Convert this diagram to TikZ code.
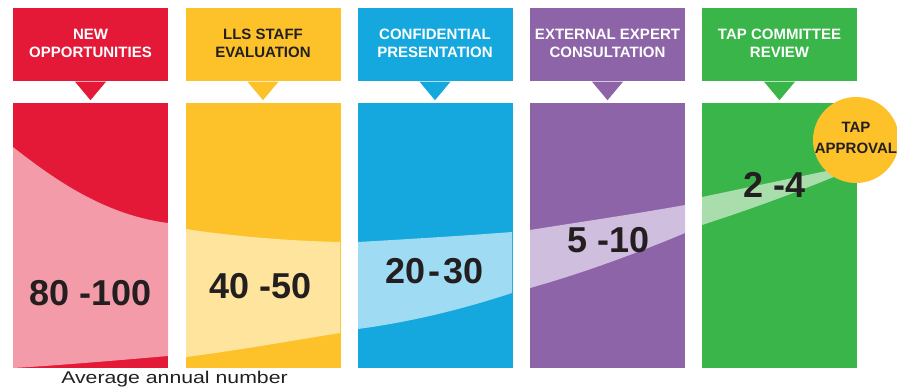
\documentclass[tikz,border=0pt]{standalone}
\usepackage{fontspec}
\setmainfont{Liberation Sans}
\usetikzlibrary{calc}
\definecolor{cRed}{HTML}{E31937}
\definecolor{cRedL}{HTML}{F39BA9}
\definecolor{cYel}{HTML}{FDC22A}
\definecolor{cYelL}{HTML}{FEE49C}
\definecolor{cBlue}{HTML}{14A8DF}
\definecolor{cBlueL}{HTML}{9FDBF2}
\definecolor{cPur}{HTML}{8E64A8}
\definecolor{cPurL}{HTML}{D0BEDF}
\definecolor{cGrn}{HTML}{3AB54A}
\definecolor{cGrnL}{HTML}{A9DDAB}
\definecolor{cDark}{HTML}{231F20}
\tikzset{
  hdrbox/.style={rectangle, fill=#1, minimum width=155pt, minimum height=73pt, inner sep=0pt},
  bodybox/.style={rectangle, fill=#1, minimum width=155pt, minimum height=265pt, inner sep=0pt},
  hdrtext/.style={text=#1, align=center, inner sep=0pt,
    font=\fontsize{15}{18}\selectfont\bfseries},
  numtext/.style={text=cDark, anchor=base, inner sep=0pt,
    font=\fontsize{36}{36}\selectfont\bfseries},
  pointer/.style={fill=#1}
}
\newcommand{\mypointer}[2]{%
  \fill[pointer=#2] ($(#1.south)+(-15.5,0.5)$) -- ($(#1.south)+(15.5,0.5)$) -- ($(#1.south)+(0,19)$) -- cycle;}
\begin{document}
\begin{tikzpicture}[x=1pt,y=-1pt]
\useasboundingbox (0,0) rectangle (897,389);
\clip (0,0) rectangle (897,389);

% headers
\node[hdrbox=cRed]  (h1) at (90.5,44.5)  {};
\node[hdrbox=cYel]  (h2) at (263,44.5)   {};
\node[hdrbox=cBlue] (h3) at (435,44.5)   {};
\node[hdrbox=cPur]  (h4) at (607.5,44.5) {};
\node[hdrbox=cGrn]  (h5) at (779.5,44.5) {};
\mypointer{h1}{cRed}
\mypointer{h2}{cYel}
\mypointer{h3}{cBlue}
\mypointer{h4}{cPur}
\mypointer{h5}{cGrn}
\node[hdrtext=white] (t1) at (90.5,43)  {NEW\\OPPORTUNITIES};
\node[hdrtext=cDark] (t2) at (263,43)   {LLS STAFF\\EVALUATION};
\node[hdrtext=white] (t3) at (435,43)   {CONFIDENTIAL\\PRESENTATION};
\node[hdrtext=white] (t4) at (607.5,43) {EXTERNAL EXPERT\\CONSULTATION};
\node[hdrtext=white] (t5) at (779.5,43) {TAP COMMITTEE\\REVIEW};

% bodies
\node[bodybox=cRed]  (b1) at (90.5,235.5)  {};
\node[bodybox=cYel]  (b2) at (263,235.5)   {};
\node[bodybox=cBlue] (b3) at (435,235.5)   {};
\node[bodybox=cPur]  (b4) at (607.5,235.5) {};
\node[bodybox=cGrn]  (b5) at (779.5,235.5) {};

% funnel band
\fill[cRedL] (13,147) .. controls (55,180) and (105,215) .. (168,223)
  -- (168,356) .. controls (110,361) and (50,366) .. (13,368) -- cycle;
\fill[cYelL] (186,229) .. controls (230,236) and (290,241) .. (340,242)
  -- (340,333) .. controls (290,341) and (240,350) .. (186,357) -- cycle;
\fill[cBlueL] (358,242) .. controls (410,239) and (460,236) .. (512,232)
  -- (512,293) .. controls (460,310) and (410,322) .. (358,329) -- cycle;
\fill[cPurL] (530,230) .. controls (580,222) and (635,214) .. (685,205)
  -- (685,233) .. controls (635,254) and (580,274) .. (530,288) -- cycle;
\fill[cGrnL] (702,197) -- (836,169) -- (836,176) .. controls (790,195) and (745,211) .. (702,225) -- cycle;

% numbers
\node[numtext] (n1) at (90.5,305) {80 -100};
\node[numtext] (n2) at (260.5,298) {40 -50};
\node[numtext] (n3) at (434.5,283) {20\kern3pt-\kern3pt30};
\node[numtext] (n4) at (608.5,252) {5 -10};
\node[numtext] (n5) at (775,197) {2 -4};

% approval circle
\node[circle, fill=cYel, minimum size=86pt, inner sep=0pt] (ap) at (856,140) {};
\node[hdrtext=cDark, font=\fontsize{15}{20.6}\selectfont\bfseries] (apt) at (856,137.7) {TAP\\APPROVAL};

% caption
\node[anchor=base, inner sep=0pt, text=cDark, font=\fontsize{17}{17}\selectfont] (cap) at (174.5,383) {\scalebox{1.25}[1]{Average annual number}};
\end{tikzpicture}
\end{document}
